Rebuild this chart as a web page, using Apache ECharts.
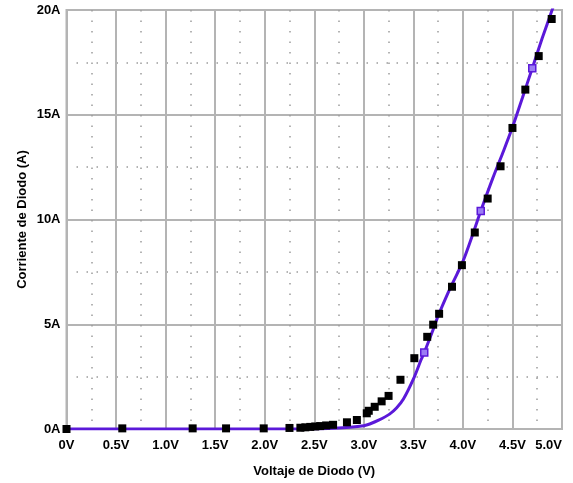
<!DOCTYPE html>
<html>
<head>
<meta charset="utf-8">
<script src="https://cdn.jsdelivr.net/npm/echarts@6/dist/echarts.min.js"></script>
<style>
html,body{margin:0;padding:0;background:#fff;}
#c{width:573px;height:483px;}
</style>
</head>
<body>
<div id="c"></div>
<script>
// Measured diode data (black squares)
const measV = [0, 0.563, 1.273, 1.61, 1.99, 2.25, 2.36, 2.41, 2.46, 2.51, 2.56, 2.62, 2.69, 2.83, 2.93, 3.03, 3.05, 3.11, 3.18, 3.25, 3.37, 3.51, 3.64, 3.70, 3.76, 3.89, 3.99, 4.12, 4.25, 4.38, 4.50, 4.63, 4.765, 4.896];
const measI = [0, 0.03, 0.03, 0.03, 0.03, 0.05, 0.06, 0.08, 0.10, 0.12, 0.14, 0.17, 0.20, 0.32, 0.43, 0.75, 0.87, 1.06, 1.32, 1.58, 2.35, 3.38, 4.40, 4.98, 5.50, 6.79, 7.82, 9.38, 11.0, 12.54, 14.37, 16.2, 17.8, 19.57];

// Simulated diode curve (purple line)
const curveV = [0, 0.5, 1.0, 1.5, 2.0, 2.5, 2.7, 2.86, 3.0, 3.06, 3.15, 3.26, 3.33, 3.40, 3.50, 3.58, 3.61, 3.70, 3.75, 3.85, 3.90, 4.00, 4.10, 4.18, 4.30, 4.40, 4.50, 4.60, 4.70, 4.80, 4.90, 4.95];
const curveI = [0, 0, 0, 0, 0, 0, 0.03, 0.08, 0.16, 0.24, 0.42, 0.71, 1.0, 1.43, 2.38, 3.33, 3.65, 4.75, 5.40, 6.50, 7.00, 8.00, 9.30, 10.4, 11.95, 13.15, 14.4, 15.8, 17.22, 18.65, 20.0, 20.7];

// Curve markers (purple squares)
const markV = [3.61, 4.18, 4.70];
const markI = [3.65, 10.4, 17.22];

// Tick labels
const xTickLabels = ['0V', '0.5V', '1.0V', '1.5V', '2.0V', '2.5V', '3.0V', '3.5V', '4.0V', '4.5V', '5.0V'];
const yTickLabels = ['0A', '5A', '10A', '15A', '20A'];

const FONT = 'Liberation Sans, Arial, Helvetica, sans-serif';
const GRID = '#b4b4b4';
const DOT = '#9c9c9c';

const chart = echarts.init(document.getElementById('c'));
const zip = (a, b) => a.map((v, i) => [v, b[i]]);

chart.setOption({
  animation: false,
  grid: {left: 66.5, right: 11, top: 10, bottom: 53, show: true, borderColor: GRID, borderWidth: 2, backgroundColor: 'transparent'},
  xAxis: {
    type: 'value', min: 0, max: 5, interval: 0.5,
    name: 'Voltaje de Diodo (V)', nameLocation: 'middle', nameGap: 36, nameMoveOverlap: false,
    nameTextStyle: {fontFamily: FONT, fontWeight: 'bold', fontSize: 13, color: '#000'},
    axisLine: {show: false},
    axisTick: {show: false},
    axisLabel: {
      margin: 10, fontFamily: FONT, fontWeight: 'bold', fontSize: 13, color: '#000',
      alignMaxLabel: 'right',
      formatter: v => xTickLabels[Math.round(v / 0.5)]
    },
    splitLine: {show: true, lineStyle: {color: GRID, width: 2}},
    minorTick: {show: false, splitNumber: 2},
    minorSplitLine: {show: true, lineStyle: {color: DOT, width: 1.5, type: [1.5, 9]}}
  },
  yAxis: {
    type: 'value', min: 0, max: 20, interval: 5,
    name: 'Corriente de Diodo (A)', nameLocation: 'middle', nameGap: 44, nameMoveOverlap: false, nameRotate: 90,
    nameTextStyle: {fontFamily: FONT, fontWeight: 'bold', fontSize: 13, color: '#000', verticalAlign: 'middle'},
    axisLine: {show: false},
    axisTick: {show: false},
    axisLabel: {
      margin: 6, fontFamily: FONT, fontWeight: 'bold', fontSize: 13, color: '#000',
      formatter: v => yTickLabels[Math.round(v / 5)]
    },
    splitLine: {show: true, lineStyle: {color: GRID, width: 2}},
    minorTick: {show: false, splitNumber: 2},
    minorSplitLine: {show: true, lineStyle: {color: DOT, width: 1.5, type: [1.5, 8.5]}}
  },
  series: [
    {
      type: 'line', data: zip(curveV, curveI), showSymbol: false, smooth: 0.3,
      lineStyle: {color: '#5b19d9', width: 3}, clip: true, z: 2
    },
    {
      type: 'scatter', data: zip(markV, markI), symbol: 'rect', symbolSize: 7,
      itemStyle: {color: '#9b7cf4', borderColor: '#5b19d9', borderWidth: 1.5, opacity: 1}, z: 3
    },
    {
      type: 'scatter', data: zip(measV, measI), symbol: 'rect', symbolSize: 8,
      itemStyle: {color: '#000', opacity: 1}, clip: false, z: 4
    }
  ]
});
</script>
</body>
</html>
